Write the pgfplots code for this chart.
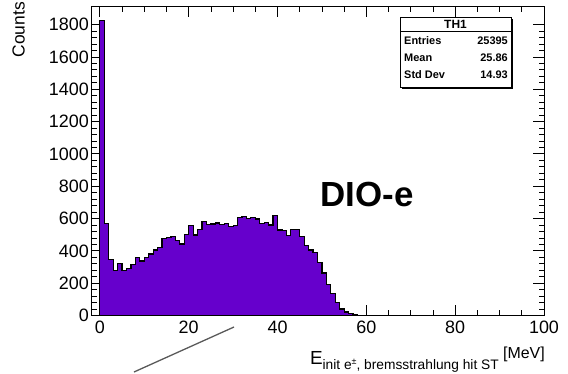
\documentclass[border=0pt]{standalone}
\usepackage{fontspec}
\setmainfont{Liberation Sans}
\usepackage{pgfplots}
\pgfplotsset{compat=1.18}
\definecolor{histfill}{RGB}{102,0,204}
\begin{document}
\begin{tikzpicture}
\begin{axis}[
  scale only axis,
  width=453bp, height=309.5bp,
  xmin=-2, xmax=100, ymin=0, ymax=1915,
  xtick={0,20,...,100}, minor x tick num=3,
  ytick={0,200,...,1800}, minor y tick num=4,
  tick align=inside,
  major tick length=11bp, minor tick length=5.5bp,
  axis line style={line width=0.8bp},
  every tick/.style={line width=0.8bp, black},
  /pgf/number format/assume math mode=true,
  /pgf/number format/1000 sep={},
  ticklabel style={font=\fontsize{18}{18}\selectfont},
  yticklabel style={inner sep=0pt, xshift=-2bp},
  xticklabel style={inner sep=0pt, yshift=-5bp},
]
\addplot[const plot mark left, fill=histfill, draw=black, line width=1.2bp] coordinates {
(0,1823) (1,570) (2,347) (3,277) (4,323) (5,277) (6,292) (7,318) (8,360) (9,337)
(10,360) (11,380) (12,405) (13,422) (14,477) (15,484) (16,488) (17,463) (18,442) (19,502)
(20,555) (21,498) (22,533) (23,580) (24,564) (25,566) (26,572) (27,564) (28,570) (29,553)
(30,555) (31,607) (32,611) (33,601) (34,605) (35,597) (36,570) (37,576) (38,560) (39,621)
(40,529) (41,524) (42,494) (43,533) (44,533) (45,487) (46,432) (47,405) (48,391) (49,330)
(50,263) (51,192) (52,138) (53,80) (54,40) (55,22) (56,10) (57,3) (58,1) (59,0) (100,0)
} \closedcycle;
\end{axis}
\begin{scope}[shift={(current axis.north west)}, x=1bp, y=-1bp]
% y title
\node[rotate=90, anchor=east, inner sep=0pt, font=\fontsize{17.5}{17.5}\selectfont] at (-72.5,-4) {Counts};
% x title
\node[anchor=base east, inner sep=0pt, font=\fontsize{16}{16}\selectfont] at (454,352)
  {\raisebox{-6bp}{\fontsize{19}{19}\selectfont E}\raisebox{-11bp}{\fontsize{13.8}{14}\selectfont init e\raisebox{0.6ex}{\fontsize{9}{9}\selectfont ±}, bremsstrahlung hit ST}\ [MeV]};
% annotation
\node[anchor=center, inner sep=0pt, font=\fontsize{35}{35}\selectfont\bfseries] at (276,188) {DIO-e};
% stats box
\fill[black] (310.5,12.5) rectangle (421.5,82.5);
\draw[fill=white, line width=0.8bp] (309,11) rectangle (420,81);
\draw[line width=0.8bp] (309,25) -- (420,25);
\node[font=\fontsize{12}{12}\selectfont\bfseries, inner sep=0pt] at (364.5,18) {TH1};
\begin{scope}[font=\fontsize{11}{11}\selectfont\bfseries]
\node[anchor=west, inner sep=0pt] at (313,35) {Entries};
\node[anchor=east, inner sep=0pt] at (417,35) {25395};
\node[anchor=west, inner sep=0pt] at (313,52) {Mean};
\node[anchor=east, inner sep=0pt] at (417,52) {25.86};
\node[anchor=west, inner sep=0pt] at (313,69) {Std Dev};
\node[anchor=east, inner sep=0pt] at (417,69) {14.93};
\end{scope}
% stray line
\draw[line width=1.3bp, black!65] (43,366) -- (143,321);
\pgfresetboundingbox
\path[use as bounding box] (-91,-6) rectangle (477,367);
\end{scope}
\end{tikzpicture}
\end{document}
